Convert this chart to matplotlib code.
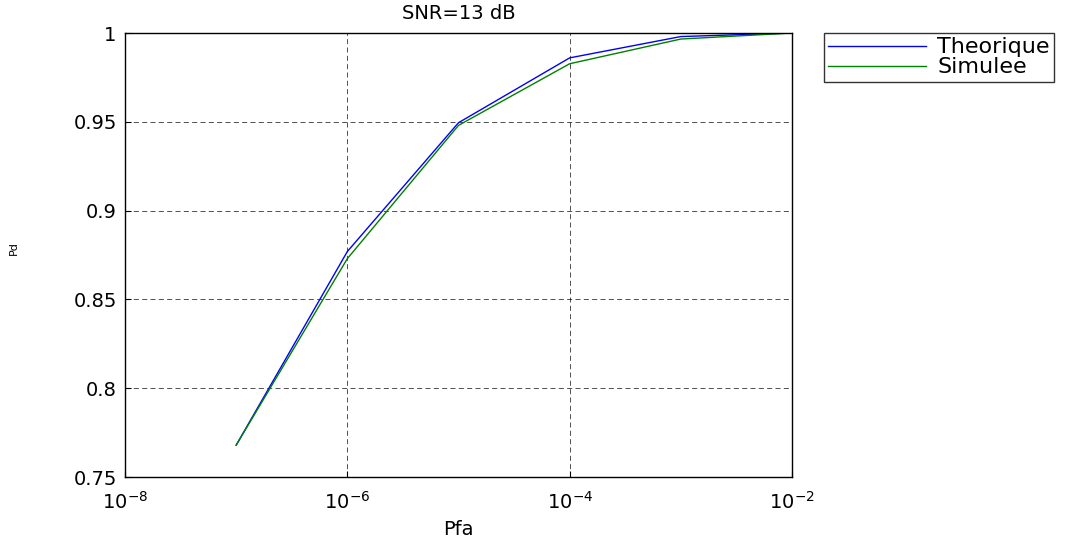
import matplotlib
matplotlib.use('Agg')
import matplotlib.pyplot as plt
from matplotlib.ticker import FixedLocator, NullLocator

plt.rcParams['font.family'] = ['DejaVu Sans']
plt.rcParams['mathtext.default'] = 'regular'

# detection probability vs false alarm probability, SNR = 13 dB
pfa = [1e-7, 1e-6, 1e-5, 1e-4, 1e-3, 1e-2]
pd_theorique = [0.768, 0.877, 0.9495, 0.986, 0.998, 1.0]
pd_simulee = [0.768, 0.873, 0.948, 0.9827, 0.9966, 1.0]

x_ticks = [1e-8, 1e-6, 1e-4, 1e-2]
x_labels = ['$10^{-8}$', '$10^{-6}$', '$10^{-4}$', '$10^{-2}$']
y_ticks = [0.75, 0.8, 0.85, 0.9, 0.95, 1.0]
y_labels = ['0.75', '0.8', '0.85', '0.9', '0.95', '1']

fig = plt.figure(figsize=(10.87, 5.41), dpi=100)
ax = fig.add_axes([0.115, 0.118, 0.6136, 0.821])

ax.plot(pfa, pd_theorique, color=(0, 0, 1), lw=1.0, label='Theorique')
ax.plot(pfa, pd_simulee, color=(0, 0.5, 0), lw=1.0, label='Simulee')

ax.set_xscale('log')
ax.set_xlim(1e-8, 1e-2)
ax.set_ylim(0.75, 1.0)
ax.xaxis.set_major_locator(FixedLocator(x_ticks))
ax.xaxis.set_minor_locator(NullLocator())
ax.set_xticklabels(x_labels)
ax.set_yticks(y_ticks)
ax.set_yticklabels(y_labels)
ax.tick_params(direction='in', length=4, labelsize=14, width=0.8)
ax.tick_params(axis='y', pad=6)
ax.tick_params(axis='x', pad=10)

ax.grid(True, color='black', linestyle=(0, (6, 4)), linewidth=0.6, alpha=0.8)
for s in ax.spines.values():
    s.set_linewidth(1.0)

ax.set_title('SNR=13 dB', fontsize=14, pad=10)
ax.set_xlabel('Pfa', fontsize=14, labelpad=5)
ax.set_ylabel('Pd', fontsize=8)
ax.yaxis.set_label_coords(-0.159, 0.516)

leg = ax.legend(loc='upper left', bbox_to_anchor=(824 / 1087, 1 - 33 / 541),
                bbox_transform=fig.transFigure, fontsize=16, frameon=True,
                fancybox=False, edgecolor='black', borderpad=0.2,
                labelspacing=0.0, handlelength=4.4, handletextpad=0.5,
                borderaxespad=0)
leg.get_frame().set_linewidth(1.0)

fig.savefig('out.png', dpi=100)
